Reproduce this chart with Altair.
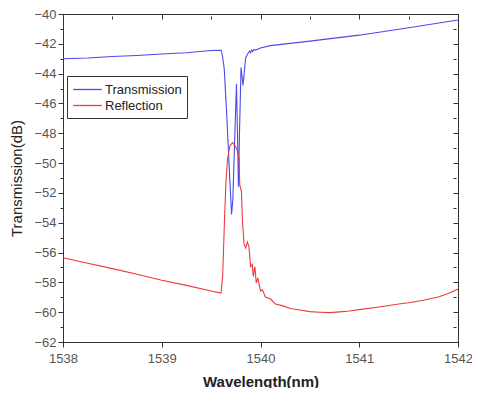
import altair as alt
import pandas as pd

trans_x = [1538.0, 1538.25, 1538.5, 1538.75, 1539.0, 1539.25, 1539.5, 1539.6, 1539.615, 1539.633,
           1539.66, 1539.683, 1539.707, 1539.72, 1539.74, 1539.757, 1539.767, 1539.777, 1539.787,
           1539.803, 1539.823, 1539.833, 1539.85, 1539.873, 1539.89, 1539.9, 1539.91, 1539.92,
           1539.933, 1539.95, 1540.0, 1540.1, 1540.5, 1541.0, 1541.5, 1542.0]
trans_y = [-43.0, -42.95, -42.85, -42.78, -42.68, -42.6, -42.45, -42.43, -42.8, -43.7,
           -47.0, -50.26, -53.44, -52.45, -48.08, -44.68, -48.08, -51.58, -48.0,
           -43.59, -44.79, -44.1, -42.93, -42.65, -42.5, -42.6, -42.42, -42.52,
           -42.38, -42.42, -42.28, -42.12, -41.82, -41.42, -40.92, -40.4]

refl_x = [1538.0, 1538.25, 1538.5, 1538.75, 1539.0, 1539.25, 1539.5, 1539.6, 1539.617, 1539.633,
          1539.65, 1539.667, 1539.69, 1539.717, 1539.743, 1539.767, 1539.783, 1539.79, 1539.807,
          1539.817, 1539.833, 1539.85, 1539.867, 1539.883, 1539.9, 1539.917, 1539.927, 1539.943,
          1539.957, 1539.973, 1540.0, 1540.02, 1540.05, 1540.1, 1540.15, 1540.22, 1540.3, 1540.4,
          1540.5, 1540.6, 1540.7, 1540.8, 1540.9, 1541.0, 1541.2, 1541.4, 1541.5, 1541.65,
          1541.8, 1541.9, 1542.0]
refl_y = [-56.35, -56.72, -57.08, -57.45, -57.86, -58.2, -58.58, -58.72, -57.6, -54.3,
          -51.25, -49.7, -48.84, -48.62, -48.84, -49.17, -49.72, -51.47, -51.9,
          -53.87, -55.4, -55.7, -55.3, -55.6, -56.94, -56.8, -57.6, -56.94,
          -58.04, -57.7, -58.58, -58.5, -59.0, -59.1, -59.45, -59.56, -59.75, -59.85,
          -59.96, -60.0, -60.03, -59.98, -59.92, -59.83, -59.65, -59.45, -59.37, -59.2,
          -58.98, -58.75, -58.45]

series = ["Transmission", "Reflection"]
colors = ["#4a4aee", "#ee3a3a"]

x_ticks = [1538, 1538.5, 1539, 1539.5, 1540, 1540.5, 1541, 1541.5, 1542]
y_ticks = list(range(-62, -39))

df = pd.concat([
    pd.DataFrame({"wl": trans_x, "val": trans_y, "series": series[0], "order": range(len(trans_x))}),
    pd.DataFrame({"wl": refl_x, "val": refl_y, "series": series[1], "order": range(len(refl_x))}),
])

font = "Liberation Sans"
xscale = alt.Scale(domain=[1538, 1542], nice=False)
yscale = alt.Scale(domain=[-62, -40], nice=False)
x_tick_size = {"condition": {"test": "datum.value % 1 == 0", "value": 5}, "value": 3}
y_tick_size = {"condition": {"test": "datum.value % 2 == 0", "value": 5}, "value": 3}

main = alt.Chart(df).mark_line(strokeWidth=1.1).encode(
    x=alt.X("wl:Q", scale=xscale,
            axis=alt.Axis(title="Wavelength(nm)", values=x_ticks,
                          labelExpr="datum.value % 1 == 0 ? datum.label : ''",
                          format="d", grid=False, tickColor="#333", domainColor="#333",
                          tickSize=x_tick_size, labelFlush=False, labelPadding=5,
                          labelColor="#555", labelFontSize=13, labelFont=font,
                          titleFont=font, titleFontSize=15, titleFontWeight="bold",
                          titleColor="#222", titlePadding=9)),
    y=alt.Y("val:Q", scale=yscale,
            axis=alt.Axis(title="Transmission(dB)", values=y_ticks,
                          labelExpr="datum.value % 2 == 0 ? datum.label : ''",
                          grid=False, tickColor="#333", domainColor="#333",
                          tickSize=y_tick_size, labelFlush=False, labelPadding=2,
                          labelColor="#555", labelFontSize=13, labelFont=font,
                          titleFont=font, titleFontSize=15, titleFontWeight="normal",
                          titleColor="#222", titlePadding=9)),
    color=alt.Color("series:N", scale=alt.Scale(domain=series, range=colors),
                    legend=alt.Legend(title=None, orient="none", legendX=4, legendY=62,
                                      symbolType="M-1.9,0H1.9", symbolSize=225,
                                      symbolStrokeWidth=1.3, symbolOffset=7,
                                      labelFont=font, labelFontSize=13, labelColor="#222",
                                      labelOffset=9, strokeColor="#333", padding=5,
                                      fillColor="white", rowPadding=0)),
    order="order:Q",
)

frame = alt.Chart(df).mark_line(opacity=0).encode(
    x=alt.X("wl:Q", scale=xscale,
            axis=alt.Axis(orient="top", title=None, values=x_ticks, labels=False, domain=False,
                          grid=False, tickColor="#333", tickSize=x_tick_size, offset=-5)),
    y=alt.Y("val:Q", scale=yscale,
            axis=alt.Axis(orient="right", title=None, values=y_ticks, labels=False, domain=False,
                          grid=False, tickColor="#333", tickSize=y_tick_size, offset=-5)),
    detail="series:N",
)

chart = alt.layer(main, frame).resolve_axis(x="independent", y="independent").properties(
    width=395, height=328,
    autosize=alt.AutoSizeParams(type="none"),
    padding={"left": 55, "top": 6, "right": 14, "bottom": 46},
).configure_view(stroke="#333", strokeWidth=1)

chart.save("out.html", embed_options={"renderer": "svg", "actions": False})
